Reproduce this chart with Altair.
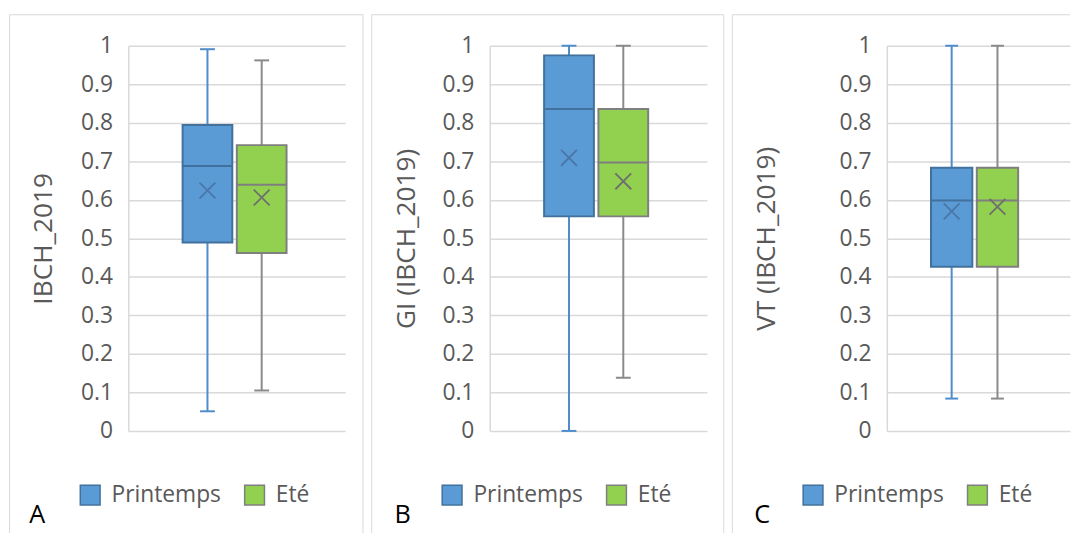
import altair as alt
import pandas as pd

# ---- data ----
series = ["Printemps", "Eté"]
y_titles = ["IBCH_2019", "GI (IBCH_2019)", "VT (IBCH_2019)"]
panel_letters = ["A", "B", "C"]
y_ticks = [0, 0.1, 0.2, 0.3, 0.4, 0.5, 0.6, 0.7, 0.8, 0.9, 1]

a_min = [0.051, 0.105]
a_q1 = [0.489, 0.462]
a_med = [0.688, 0.639]
a_q3 = [0.794, 0.742]
a_max = [0.991, 0.962]
a_mean = [0.624, 0.606]

b_min = [0.0, 0.138]
b_q1 = [0.557, 0.557]
b_med = [0.836, 0.697]
b_q3 = [0.975, 0.836]
b_max = [1.0, 1.0]
b_mean = [0.709, 0.648]

c_min = [0.084, 0.084]
c_q1 = [0.426, 0.426]
c_med = [0.598, 0.598]
c_q3 = [0.683, 0.683]
c_max = [1.0, 1.0]
c_mean = [0.570, 0.582]

# ---- styles ----
fill_colors = ["#5B9BD5", "#92D050"]
edge_colors = ["#41719C", "#7F7F7F"]
whisker_colors = ["#4F8CCB", "#8A8A8A"]
median_colors = ["#41719C", "#7F7F7F"]
mean_colors = ["#4A76A8", "#6E6E6E"]
border_color = "#D9D9D9"
text_color = "#595959"
FONT = "Open Sans"
H = 389
MEAN_SHAPE = "M-1,-1L1,1M-1,1L1,-1"


def cond(colors):
    return alt.condition(alt.datum.series == series[0],
                         alt.value(colors[0]), alt.value(colors[1]))


def panel(mins, q1, med, q3, maxs, mean, title, letter, lay):
    df = pd.DataFrame({"series": series, "min": mins, "q1": q1, "median": med,
                       "q3": q3, "max": maxs, "mean": mean})
    one = pd.DataFrame({"panel": [letter]})

    xscale = alt.Scale(domain=series, paddingInner=0,
                       paddingOuter=1, align=lay["align"])
    x = alt.X("series:N", scale=xscale, axis=None, sort=series)
    yscale = alt.Scale(domain=[0, 1], nice=False)
    yaxis = alt.Axis(values=y_ticks, format=".1~f", title=title,
                     titleX=lay["title_x"], titleY=H / 2, titleAngle=-90,
                     titleAlign="center", titleBaseline="middle",
                     titleFontSize=26.5, titleFont=FONT, titleFontWeight="normal",
                     titleColor=text_color, labelFontSize=23, labelFont=FONT,
                     labelColor=text_color, labelPadding=16, ticks=False,
                     tickSize=0, domainColor=border_color, domainWidth=1.5,
                     gridColor=border_color, gridWidth=1.5)

    legend = alt.Legend(orient="none", legendX=lay["legend_x"], legendY=lay["legend_y"],
                        direction="horizontal", title=None, symbolType="square",
                        symbolSize=400, symbolStrokeWidth=1.5, labelFontSize=23,
                        labelFont=FONT, labelColor=text_color, labelOffset=10,
                        columnPadding=20, padding=0)

    base = alt.Chart(df)

    whisker = base.mark_rule(strokeWidth=2).encode(
        x=x, y=alt.Y("min:Q", scale=yscale, axis=yaxis), y2="max:Q",
        stroke=cond(whisker_colors))
    cap_lo = base.mark_tick(size=lay["cap"], thickness=2, opacity=1).encode(
        x=x, y=alt.Y("min:Q", scale=yscale, axis=yaxis), color=cond(whisker_colors))
    cap_hi = base.mark_tick(size=lay["cap"], thickness=2, opacity=1).encode(
        x=x, y=alt.Y("max:Q", scale=yscale, axis=yaxis), color=cond(whisker_colors))
    box = base.mark_bar(width=alt.RelativeBandSize(lay["box"]), strokeWidth=2).encode(
        x=x, y=alt.Y("q1:Q", scale=yscale, axis=yaxis), y2="q3:Q",
        color=alt.Color("series:N", scale=alt.Scale(domain=series, range=fill_colors),
                        legend=legend, sort=series),
        stroke=alt.Stroke("series:N", scale=alt.Scale(domain=series, range=edge_colors),
                          legend=legend, sort=series))
    median = base.mark_tick(size=lay["med_w"], thickness=2, opacity=1).encode(
        x=x, y=alt.Y("median:Q", scale=yscale, axis=yaxis), color=cond(median_colors))
    meanpt = base.mark_point(shape=MEAN_SHAPE, size=256, filled=False,
                             strokeWidth=1.8, opacity=1).encode(
        x=x, y=alt.Y("mean:Q", scale=yscale, axis=yaxis), stroke=cond(mean_colors))

    b = lay["border"]
    bl = alt.Chart(one).mark_rule(color=border_color, strokeWidth=1).encode(
        x=alt.value(b[0]), y=alt.value(b[2]), y2=alt.value(b[3]))
    bt = alt.Chart(one).mark_rule(color=border_color, strokeWidth=1).encode(
        x=alt.value(b[0]), x2=alt.value(b[1]), y=alt.value(b[2]))
    layers = [bl, bt]
    if lay["right_border"]:
        br = alt.Chart(one).mark_rule(color=border_color, strokeWidth=1).encode(
            x=alt.value(b[1]), y=alt.value(b[2]), y2=alt.value(b[3]))
        layers.append(br)
    letter_txt = alt.Chart(one).mark_text(
        font=FONT, fontSize=25.5, color="black", align="left", baseline="alphabetic").encode(
        x=alt.value(lay["letter_x"]), y=alt.value(lay["letter_y"]), text="panel:N")
    layers += [whisker, cap_lo, cap_hi, box, median, meanpt, letter_txt]
    return alt.layer(*layers).properties(width=lay["w"], height=H)


BOTTOM = 492
lay_a = dict(w=219, align=0.48, box=0.917, cap=15, med_w=50,
             title_x=-85.7, legend_x=-50, legend_y=442, letter_x=-100, letter_y=481.7,
             border=[-120, 237, -31.3, BOTTOM], right_border=True)
lay_b = dict(w=219.3, align=0.48, box=0.917, cap=15, med_w=50,
             title_x=-84.4, legend_x=-49.5, legend_y=442, letter_x=-96.2, letter_y=481.7,
             border=[-119.2, 236.3, -31.3, BOTTOM], right_border=True)
lay_c = dict(w=185, align=0.458, box=0.903, cap=13, med_w=42,
             title_x=-121, legend_x=-86, legend_y=442, letter_x=-134, letter_y=481.7,
             border=[-156, 185, -31.3, BOTTOM], right_border=False)

pa = panel(a_min, a_q1, a_med, a_q3, a_max, a_mean, y_titles[0], panel_letters[0], lay_a)
pb = panel(b_min, b_q1, b_med, b_q3, b_max, b_mean, y_titles[1], panel_letters[1], lay_b)
pc = panel(c_min, c_q1, c_med, c_q3, c_max, c_mean, y_titles[2], panel_letters[2], lay_c)

chart = alt.hconcat(pa, pb, pc, spacing=7).resolve_scale(
    color="independent", stroke="independent", x="independent", y="independent"
).resolve_legend(color="independent", stroke="independent").properties(
    padding={"left": 0.5, "top": 3.5, "right": 0, "bottom": 0}
).configure_view(strokeWidth=0)

chart.save("out.html", embed_options={"renderer": "svg", "actions": False})
